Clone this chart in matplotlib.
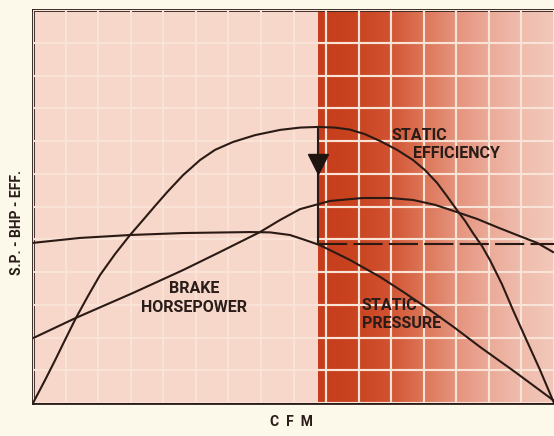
import numpy as np
import matplotlib
matplotlib.use("Agg")
import matplotlib.pyplot as plt
from matplotlib.colors import LinearSegmentedColormap

# curve values (grid units: CFM 0-16, S.P./BHP/EFF 0-12)
eff_x = [0.00, 0.37, 0.68, 0.98, 1.32, 1.69, 2.06, 2.52, 2.98, 3.38, 3.75, 4.12,
         4.61, 5.13, 5.59, 6.14, 6.82, 7.59, 8.20, 8.75, 9.27, 9.73, 10.19,
         10.66, 11.18, 11.67, 12.04, 12.41, 12.71, 13.02, 13.27, 13.51, 13.79,
         14.03, 14.40, 14.74, 15.11, 15.57, 16.00]
eff_y = [0.00, 0.70, 1.31, 1.92, 2.60, 3.27, 3.91, 4.55, 5.13, 5.59, 6.02, 6.44,
         6.96, 7.42, 7.73, 7.97, 8.18, 8.34, 8.41, 8.43, 8.41, 8.35, 8.21,
         8.00, 7.73, 7.42, 7.11, 6.72, 6.32, 5.89, 5.56, 5.19, 4.79,
         4.37, 3.63, 2.84, 2.02, 1.01, 0.00]

bhp_x = [0, 1.32, 3.07, 4.61, 5.74, 6.97, 7.59, 8.20, 9.12, 10.13, 10.96, 11.67,
         12.35, 13.02, 13.64, 14.25, 14.86, 15.48, 15.97]
bhp_y = [1.98, 2.60, 3.36, 4.06, 4.61, 5.22, 5.59, 5.92, 6.17, 6.26, 6.26, 6.20,
         6.05, 5.83, 5.62, 5.37, 5.13, 4.89, 4.61]

sp_x = [0, 1.44, 2.98, 4.61, 6.66, 7.28, 7.89, 8.35, 8.81, 9.73, 10.66, 11.42,
        12.19, 12.96, 13.73, 14.80, 15.97]
sp_y = [4.89, 5.04, 5.13, 5.19, 5.22, 5.21, 5.13, 4.98, 4.82, 4.37, 3.85, 3.36,
        2.84, 2.29, 1.71, 0.95, 0.09]

op_cfm = 8.75      # operating point
op_sp = 4.86
op_eff = 8.43
arrow_y = 7.31

xmax, ymax = 16, 12

fig = plt.figure(figsize=(5.54, 4.36), dpi=100, facecolor="#fcf8ea")
ax = fig.add_axes([0.0596, 0.0757, 0.9404, 0.9013])
ax.set_facecolor("#f6d7c9")
ax.set_xlim(0, xmax)
ax.set_ylim(0, ymax)

# shaded operating range - red fading to pink
reds = LinearSegmentedColormap.from_list(
    "reds", ["#c63d1d", "#c9431f", "#d0502f", "#db7253", "#e4917b",
             "#eba997", "#efbcad", "#f2c8ba"])
grad = np.linspace(0, 1, 256).reshape(1, -1)
ax.imshow(grad, cmap=reds, extent=[op_cfm, xmax, 0, ymax], aspect="auto",
          zorder=0.5, interpolation="bilinear")

gx = np.arange(0, xmax + 1, 1)
gy = np.arange(0, ymax + 1, 1)
ax.set_xticks(gx)
ax.set_yticks(gy)
ax.grid(True, color="#f9e2d6", lw=1.5, zorder=1)
ax.tick_params(length=0, labelbottom=False, labelleft=False)
ax.set_axisbelow(False)
# cream grid over the shaded part
ax.vlines(gx[gx > op_cfm], 0, ymax, color="#f8dcc4", lw=1.5, zorder=1.2)
ax.hlines(gy, op_cfm, xmax, color="#f8dcc4", lw=1.5, zorder=1.2)

for s in ["left", "top", "bottom"]:
    ax.spines[s].set_linewidth(2)
    ax.spines[s].set_color("#2a1c18")
ax.spines["right"].set_visible(False)

lc = "#2b1a14"
ax.plot(eff_x, eff_y, color=lc, lw=1.5, zorder=3)
ax.plot(bhp_x, bhp_y, color=lc, lw=1.5, zorder=3)
ax.plot(sp_x, sp_y, color=lc, lw=1.5, zorder=3)

# operating point marker
ax.plot([op_cfm, op_cfm], [op_sp, op_eff], color=lc, lw=1.5, zorder=3)
ax.plot([op_cfm], [arrow_y], marker="v", markersize=15, color="#1e1410", zorder=4)
ax.plot([op_cfm, xmax], [op_sp, op_sp], color=lc, lw=1.5, zorder=3,
        dashes=(14, 3))

tf = dict(family=["Roboto", "DejaVu Sans"], fontweight="bold", color="#2a1c18",
          fontsize=11.5, zorder=5)
ax.text(11.02, 8.18, "STATIC", ha="left", va="center", **tf)
ax.text(11.67, 7.63, "EFFICIENCY", ha="left", va="center", **tf)
ax.text(4.94, 3.51, "BRAKE", ha="center", va="center", **tf)
ax.text(4.94, 2.93, "HORSEPOWER", ha="center", va="center", **tf)
ax.text(10.1, 2.99, "STATIC", ha="left", va="center", **tf)
ax.text(10.1, 2.44, "PRESSURE", ha="left", va="center", **tf)

fig.text(291 / 554, 1 - 422 / 436, "C  F  M", ha="center", va="center",
         family=["Roboto", "DejaVu Sans"], fontweight="bold", fontsize=10,
         color="#2a1c18")
fig.text(17 / 554, 1 - 222 / 436, "S.P. - BHP - EFF.", ha="center", va="center",
         rotation=90, family=["Roboto", "DejaVu Sans"], fontweight="bold",
         fontsize=10, color="#2a1c18")

fig.savefig("out.png", dpi=100, facecolor=fig.get_facecolor())
